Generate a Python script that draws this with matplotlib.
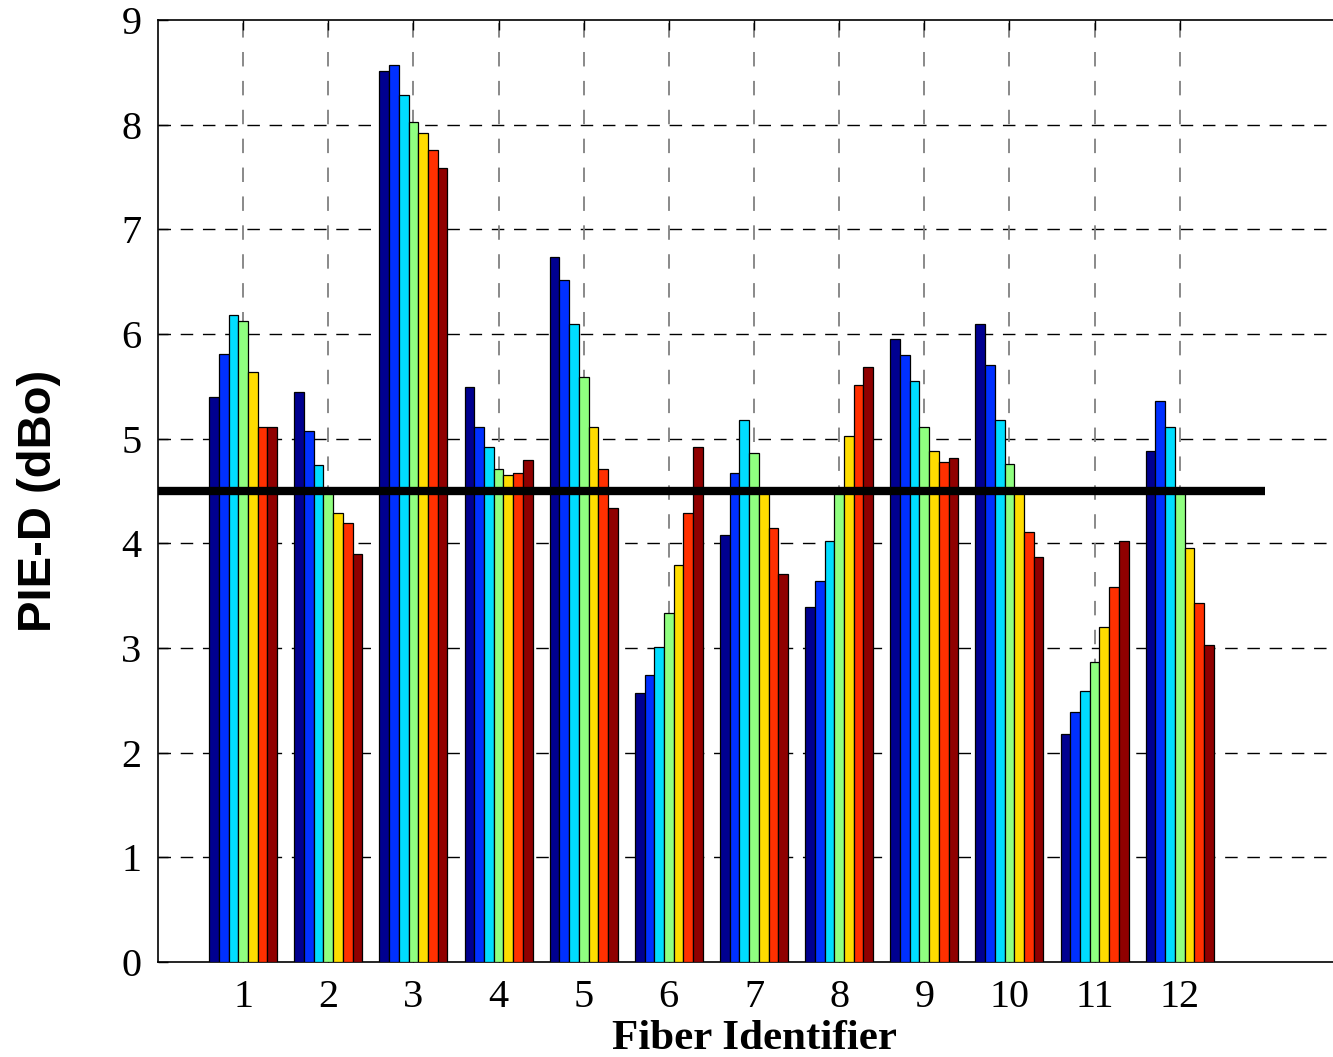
import numpy as np
import matplotlib
matplotlib.use("Agg")
import matplotlib.pyplot as plt

# PIE-D per fiber, 7 series per fiber (jet-coloured)
fibers = np.arange(1, 13)
series = [
    [5.40, 5.45, 8.51, 5.49, 6.74, 2.57, 4.08, 3.39, 5.95, 6.10, 2.18, 4.88],
    [5.81, 5.07, 8.57, 5.11, 6.52, 2.74, 4.67, 3.64, 5.80, 5.70, 2.39, 5.36],
    [6.18, 4.75, 8.28, 4.92, 6.10, 3.01, 5.18, 4.02, 5.55, 5.18, 2.59, 5.11],
    [6.12, 4.48, 8.03, 4.71, 5.59, 3.33, 4.86, 4.48, 5.11, 4.76, 2.87, 4.48],
    [5.64, 4.29, 7.92, 4.65, 5.11, 3.79, 4.48, 5.03, 4.88, 4.48, 3.20, 3.96],
    [5.11, 4.19, 7.76, 4.67, 4.71, 4.29, 4.15, 5.51, 4.78, 4.11, 3.58, 3.43],
    [5.11, 3.90, 7.59, 4.80, 4.34, 4.92, 3.71, 5.68, 4.82, 3.87, 4.02, 3.03],
]
colors = ["#000090", "#0030FF", "#00DDFF", "#90FF80", "#FFDD00", "#FF3000", "#900000"]
threshold = 4.5

fig = plt.figure(figsize=(13.33, 10.57), dpi=100)
ax = fig.add_axes([158 / 1333, 1 - 962 / 1057, 1192 / 1333, 942 / 1057])

n = len(series)
bw = 0.8 / n
offsets = (np.arange(n) - (n - 1) / 2) * bw
for vals, off, c in zip(series, offsets, colors):
    ax.bar(fibers + off, vals, width=bw, color=c, edgecolor="black", lw=0.9,
           zorder=3)

ax.plot([0, 13], [threshold, threshold], color="black", lw=6, zorder=5,
        solid_capstyle="butt")

ax.set_xlim(0, 14)
ax.set_ylim(0, 9)
ax.set_xticks(fibers)
ax.set_yticks(range(10))
for y in range(1, 9):
    ax.axhline(y, color="black", lw=1, ls=(0, (9, 7)), zorder=1)
for x in fibers:
    ax.axvline(x, color="#808080", lw=1.3, ls=(0, (8, 8)), zorder=1)

ax.spines["right"].set_visible(False)
for s in ("left", "top", "bottom"):
    ax.spines[s].set_linewidth(1.2)
ax.tick_params(direction="in", length=7, width=1, top=True, right=False,
               labelsize=29, pad=12)
for lab in ax.get_xticklabels() + ax.get_yticklabels():
    lab.set_family("Liberation Serif")

ax.set_xlabel("Fiber Identifier", family="Liberation Serif", fontweight="bold",
              fontsize=31, labelpad=3)
ax.set_ylabel("PIE-D (dBo)", family="Liberation Sans", fontweight="bold",
              fontsize=34)
ax.yaxis.set_label_coords(-0.081, 0.49)

fig.savefig("out.png", dpi=100, facecolor="white")
